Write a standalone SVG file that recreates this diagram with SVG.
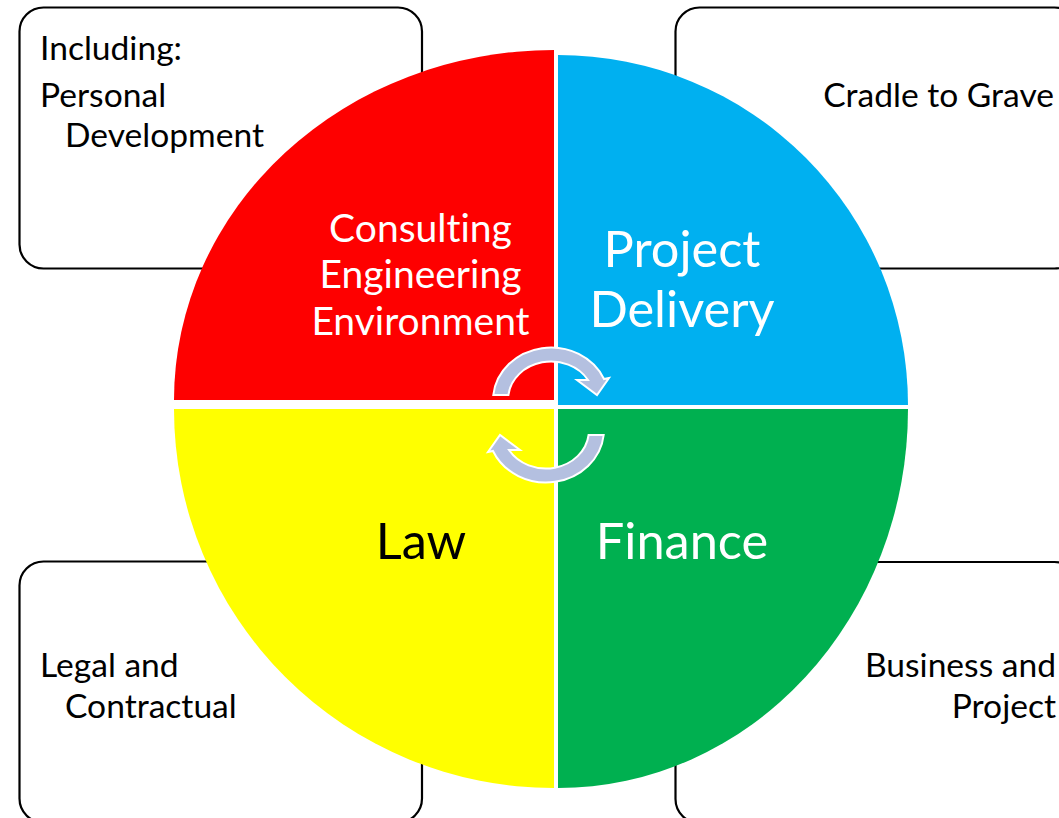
<svg xmlns="http://www.w3.org/2000/svg" width="1059" height="818" viewBox="0 0 1059 818">
  <style>
    text { font-variant-ligatures: none; }
    .box { fill: #FFFFFF; stroke: #000000; stroke-width: 2.2; }
    .boxtxt { font-family: Lato, "Liberation Sans", sans-serif; font-size: 33.6px; fill: #000000; }
    .qtxt { font-family: Lato, "Liberation Sans", sans-serif; text-anchor: middle; }
    .big { font-size: 50.5px; }
    .mid { font-size: 39px; }
    .white { fill: #FFFFFF; }
    .black { fill: #000000; }
    .cyc { fill: #B4C0E0; stroke: #FFFFFF; stroke-width: 2; stroke-linejoin: miter; }
  </style>
  <defs>
    <path id="cycleArrow" d="M 493.3,395 A 58 53 0 0 1 604,379 L 609,378 L 597,395 L 577,380 L 588,380 A 43 38 0 0 0 508.4,395 Z"/>
  </defs>
  <rect width="1059" height="818" fill="#FFFFFF"/>

  <g id="box-personal">
    <rect class="box" x="19.5" y="7.5" width="402.5" height="261" rx="24" ry="24"/>
    <text class="boxtxt" x="40" y="60">Including:</text>
    <text class="boxtxt" x="40" y="107">Personal</text>
    <text class="boxtxt" x="65" y="147">Development</text>
  </g>
  <g id="box-cradle">
    <rect class="box" x="675.5" y="7.5" width="403" height="261" rx="24" ry="24"/>
    <text class="boxtxt" x="1054" y="107" text-anchor="end">Cradle to Grave</text>
  </g>
  <g id="box-legal">
    <rect class="box" x="19.5" y="561.5" width="402.5" height="261" rx="24" ry="24"/>
    <text class="boxtxt" x="40" y="677">Legal and</text>
    <text class="boxtxt" x="65" y="718">Contractual</text>
  </g>
  <g id="box-business">
    <rect class="box" x="675.5" y="562" width="403" height="261" rx="24" ry="24"/>
    <text class="boxtxt" x="1056" y="677" text-anchor="end">Business and</text>
    <text class="boxtxt" x="1056" y="718" text-anchor="end">Project</text>
  </g>

  <g id="quadrant-consulting">
    <path d="M 554,400 L 174,400 A 380 350 0 0 1 554,50 Z" fill="#FE0000"/>
    <text class="qtxt mid white" x="420.5" y="242">Consulting</text>
    <text class="qtxt mid white" x="420.5" y="288">Engineering</text>
    <text class="qtxt mid white" x="420.5" y="335">Environment</text>
  </g>
  <g id="quadrant-project">
    <path d="M 558,405 L 558,55 A 350 350 0 0 1 908,405 Z" fill="#00B0F0"/>
    <text class="qtxt big white" x="682" y="267">Project</text>
    <text class="qtxt big white" x="682" y="327">Delivery</text>
  </g>
  <g id="quadrant-law">
    <path d="M 554,409 L 554,788 A 380 379 0 0 1 174,409 Z" fill="#FFFF00"/>
    <text class="qtxt big black" x="421" y="559">Law</text>
  </g>
  <g id="quadrant-finance">
    <path d="M 558,409 L 908,409 A 350 379 0 0 1 558,788 Z" fill="#00B050"/>
    <text class="qtxt big white" x="682" y="559">Finance</text>
  </g>

  <g id="connectors">
    <use href="#cycleArrow" class="cyc"/>
    <use href="#cycleArrow" class="cyc" transform="rotate(180 548.5 415)"/>
  </g>
</svg>
